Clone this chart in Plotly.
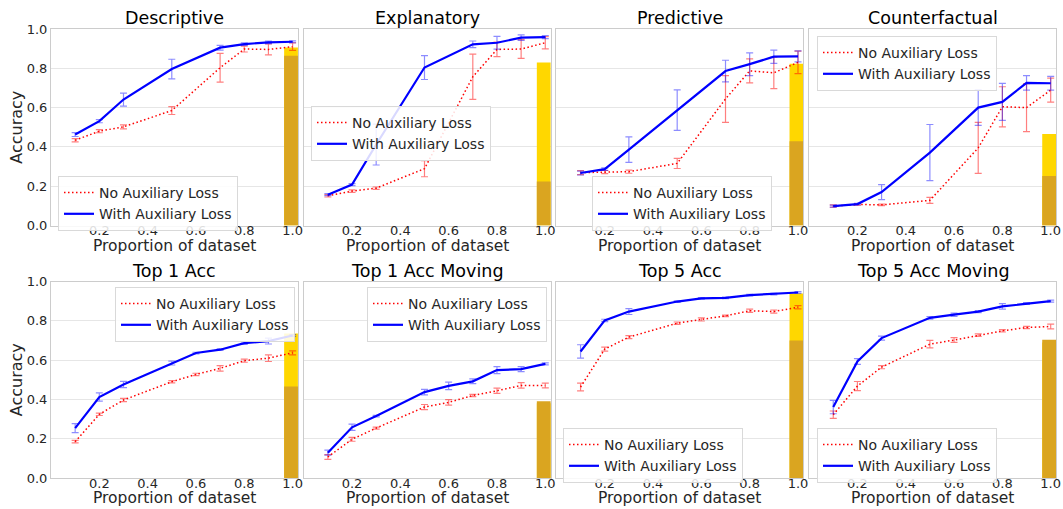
import plotly.graph_objects as go
from plotly.subplots import make_subplots

# ---------------- data ----------------
TITLES = ["Descriptive", "Explanatory", "Predictive", "Counterfactual",
          "Top 1 Acc", "Top 1 Acc Moving", "Top 5 Acc", "Top 5 Acc Moving"]
X_TITLE = "Proportion of dataset"
Y_TITLE = "Accuracy"
X_TOP = [0.1, 0.2, 0.3, 0.5, 0.7, 0.8, 0.9, 1.0]
X_BOT = [0.1, 0.2, 0.3, 0.5, 0.6, 0.7, 0.8, 0.9, 1.0]
XTICKS = [0.2, 0.4, 0.6, 0.8, 1.0]
XTICK_LABELS = ["0.2", "0.4", "0.6", "0.8", "1.0"]
YTICKS = [0.0, 0.2, 0.4, 0.6, 0.8, 1.0]
YTICK_LABELS = ["0.0", "0.2", "0.4", "0.6", "0.8", "1.0"]
SERIES_NAMES = ["No Auxiliary Loss", "With Auxiliary Loss"]

desc_no = [0.434, 0.480, 0.502, 0.585, 0.803, 0.898, 0.896, 0.910]
desc_no_err = [0.008, 0.008, 0.010, 0.020, 0.073, 0.015, 0.028, 0.019]
desc_with = [0.463, 0.531, 0.641, 0.796, 0.905, 0.923, 0.932, 0.935]
desc_with_err = [0.010, 0.008, 0.033, 0.050, 0.012, 0.006, 0.006, 0.005]

expl_no = [0.151, 0.175, 0.190, 0.289, 0.757, 0.896, 0.898, 0.930]
expl_no_err = [0.006, 0.006, 0.006, 0.041, 0.115, 0.037, 0.048, 0.031]
expl_with = [0.157, 0.208, 0.412, 0.804, 0.922, 0.930, 0.956, 0.959]
expl_with_err = [0.005, 0.005, 0.104, 0.061, 0.017, 0.032, 0.014, 0.008]

pred_no = [0.269, 0.272, 0.274, 0.316, 0.644, 0.787, 0.777, 0.830]
pred_no_err = [0.010, 0.008, 0.008, 0.026, 0.119, 0.061, 0.080, 0.057]
pred_with = [0.267, 0.287, 0.386, 0.587, 0.786, 0.821, 0.859, 0.861]
pred_with_err = [0.010, 0.006, 0.065, 0.103, 0.055, 0.058, 0.034, 0.028]

cf_no = [0.099, 0.107, 0.105, 0.128, 0.395, 0.604, 0.600, 0.689]
cf_no_err = [0.006, 0.004, 0.004, 0.015, 0.130, 0.102, 0.122, 0.061]
cf_with = [0.099, 0.109, 0.170, 0.371, 0.600, 0.629, 0.726, 0.724]
cf_with_err = [0.005, 0.004, 0.038, 0.143, 0.090, 0.094, 0.037, 0.035]

t1_no = [0.185, 0.324, 0.397, 0.490, 0.527, 0.558, 0.597, 0.610, 0.637]
t1_no_err = [0.006, 0.006, 0.008, 0.006, 0.006, 0.014, 0.008, 0.017, 0.010]
t1_with = [0.254, 0.412, 0.476, 0.585, 0.636, 0.653, 0.686, 0.697, 0.725]
t1_with_err = [0.023, 0.021, 0.016, 0.010, 0.004, 0.004, 0.006, 0.015, 0.005]

t1m_no = [0.107, 0.197, 0.254, 0.361, 0.385, 0.420, 0.444, 0.471, 0.471]
t1m_no_err = [0.012, 0.010, 0.005, 0.013, 0.014, 0.006, 0.013, 0.014, 0.012]
t1m_with = [0.129, 0.258, 0.315, 0.437, 0.469, 0.492, 0.549, 0.554, 0.581]
t1m_with_err = [0.013, 0.016, 0.004, 0.014, 0.019, 0.012, 0.018, 0.013, 0.005]

t5_no = [0.463, 0.656, 0.717, 0.788, 0.807, 0.825, 0.851, 0.847, 0.869]
t5_no_err = [0.020, 0.010, 0.008, 0.006, 0.008, 0.004, 0.008, 0.008, 0.008]
t5_with = [0.644, 0.802, 0.847, 0.898, 0.914, 0.917, 0.931, 0.936, 0.944]
t5_with_err = [0.034, 0.006, 0.015, 0.004, 0.004, 0.004, 0.004, 0.004, 0.004]

t5m_no = [0.322, 0.468, 0.564, 0.681, 0.702, 0.727, 0.749, 0.766, 0.771]
t5m_no_err = [0.019, 0.023, 0.008, 0.019, 0.012, 0.006, 0.006, 0.006, 0.012]
t5m_with = [0.361, 0.593, 0.712, 0.815, 0.831, 0.847, 0.873, 0.888, 0.900]
t5m_with_err = [0.034, 0.015, 0.010, 0.006, 0.008, 0.005, 0.014, 0.005, 0.005]

# reference bars at x = 1.0 (light: gold, dark: goldenrod)
BAR_X = 1.0
bar_light = [0.906, 0.830, 0.823, 0.466, 0.736, 0.380, 0.939, 0.690]
bar_dark = [0.864, 0.224, 0.429, 0.252, 0.466, 0.390, 0.700, 0.703]

panel_x = [X_TOP] * 4 + [X_BOT] * 4
panel_no = [desc_no, expl_no, pred_no, cf_no, t1_no, t1m_no, t5_no, t5m_no]
panel_no_err = [desc_no_err, expl_no_err, pred_no_err, cf_no_err,
                t1_no_err, t1m_no_err, t5_no_err, t5m_no_err]
panel_with = [desc_with, expl_with, pred_with, cf_with,
              t1_with, t1m_with, t5_with, t5m_with]
panel_with_err = [desc_with_err, expl_with_err, pred_with_err, cf_with_err,
                  t1_with_err, t1m_with_err, t5_with_err, t5m_with_err]

# ---------------- layout ----------------
W, H = 1063, 509
ML, MR, MT, MB = 51, 7, 29, 31
PW, PH = W - ML - MR, H - MT - MB

FONT = "DejaVu Sans"

fig = make_subplots(rows=2, cols=4, shared_yaxes=False,
                    horizontal_spacing=5.8 / PW, vertical_spacing=56 / PH)

# legend top-left corners in pixels (from the reference)
legend_px = [(58, 176), (311, 106), (592, 176), (817, 36),
             (115, 287), (367, 287), (563, 428), (817, 428)]

for i in range(8):
    r, c = i // 4 + 1, i % 4 + 1
    lg = "legend" if i == 0 else f"legend{i + 1}"
    x = panel_x[i]
    fig.add_trace(go.Bar(x=[BAR_X], y=[bar_light[i]], width=0.07,
                         marker=dict(color="#FFD700", line=dict(width=0)),
                         showlegend=False, hoverinfo="skip"), row=r, col=c)
    fig.add_trace(go.Bar(x=[BAR_X], y=[bar_dark[i]], width=0.07,
                         marker=dict(color="#DAA520", line=dict(width=0)),
                         showlegend=False, hoverinfo="skip"), row=r, col=c)
    fig.add_trace(go.Scatter(
        x=x, y=panel_no[i], mode="lines", name=SERIES_NAMES[0], legend=lg,
        line=dict(color="#ff0000", width=1.5, dash="1.5px,2.5px"),
        error_y=dict(type="data", array=panel_no_err[i], visible=True,
                     color="rgba(255,0,0,0.5)", thickness=1.2, width=3.5)),
        row=r, col=c)
    fig.add_trace(go.Scatter(
        x=x, y=panel_with[i], mode="lines", name=SERIES_NAMES[1], legend=lg,
        line=dict(color="#0000ff", width=2.2),
        error_y=dict(type="data", array=panel_with_err[i], visible=True,
                     color="rgba(0,0,255,0.45)", thickness=1.2, width=3.5)),
        row=r, col=c)

    lx, ly = legend_px[i]
    fig.update_layout({lg: dict(
        x=(lx - ML) / PW, y=(H - MB - ly) / PH, xanchor="left", yanchor="top",
        bgcolor="rgba(255,255,255,0.85)", bordercolor="#d9d9d9", borderwidth=1,
        font=dict(family=FONT, size=14, color="#262626"),
        itemwidth=30, tracegroupgap=0, traceorder="normal")})

fig.update_xaxes(range=[0.0, 1.022], tickvals=XTICKS, ticktext=XTICK_LABELS,
                 showgrid=False, zeroline=False, showline=True, mirror=True,
                 linecolor="#cccccc", linewidth=1, ticks="",
                 ticklabelstandoff=-7,
                 tickfont=dict(family=FONT, size=13, color="#262626"))
fig.update_yaxes(range=[0.0, 1.0], tickvals=YTICKS, ticktext=YTICK_LABELS,
                 showgrid=True, gridcolor="#e6e6e6", gridwidth=1,
                 zeroline=False, showline=True, mirror=True,
                 linecolor="#cccccc", linewidth=1, ticks="",
                 tickfont=dict(family=FONT, size=13, color="#262626"))
for c in range(2, 5):
    fig.update_yaxes(showticklabels=False, row=1, col=c)
    fig.update_yaxes(showticklabels=False, row=2, col=c)
for r in (1, 2):
    fig.update_yaxes(title=dict(text=Y_TITLE, standoff=0,
                                font=dict(family=FONT, size=16, color="#262626")),
                     row=r, col=1)

# subplot titles and x-axis titles
for i in range(8):
    r, c = i // 4 + 1, i % 4 + 1
    xa = fig.get_subplot(r, c).xaxis
    ya = fig.get_subplot(r, c).yaxis
    d0, d1 = xa.domain
    fig.add_annotation(text=TITLES[i], x=(d0 + d1) / 2, y=ya.domain[1],
                       xref="paper", yref="paper", xanchor="center",
                       yanchor="bottom", showarrow=False, yshift=-1,
                       font=dict(family=FONT, size=17.5, color="#000000"))
    fig.add_annotation(text=X_TITLE, x=(d0 + d1) / 2, y=ya.domain[0],
                       xref="paper", yref="paper", xanchor="center",
                       yanchor="middle", showarrow=False, yshift=-20,
                       borderpad=0,
                       font=dict(family=FONT, size=15.5, color="#262626"))

fig.update_layout(width=W, height=H, barmode="overlay",
                  margin=dict(l=ML, r=MR, t=MT, b=MB, autoexpand=False),
                  plot_bgcolor="white", paper_bgcolor="white",
                  font=dict(family=FONT, color="#262626"))

fig.write_html("out.html", config={"displayModeBar": False},
               post_script="document.body.style.margin='0px';"
                           "document.body.style.overflow='hidden';")
